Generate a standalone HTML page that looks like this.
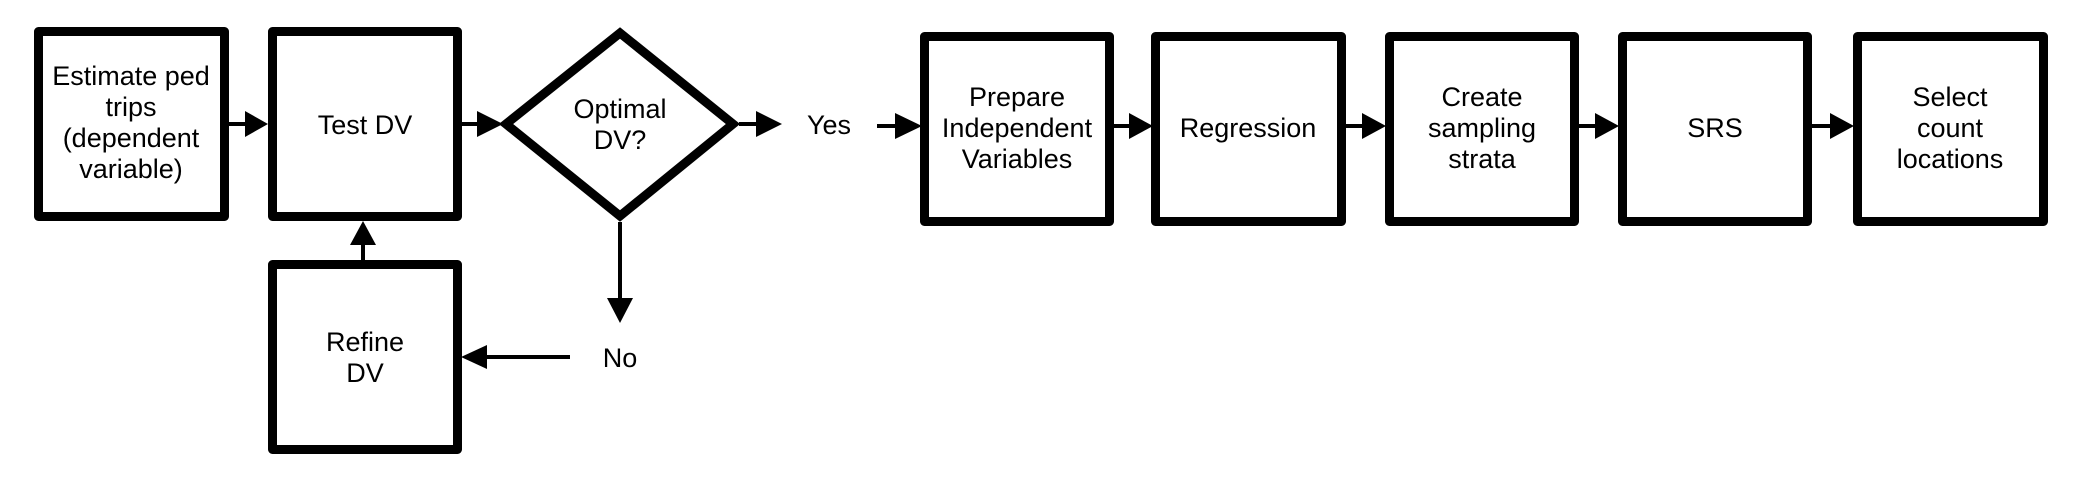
<!DOCTYPE html>
<html><head><meta charset="utf-8"><style>
html,body{margin:0;padding:0;background:#fff;}
svg{display:block;}
text{font-family:"Liberation Sans",Arial,sans-serif;font-size:27px;fill:#000;text-anchor:middle;}
</style></head><body>
<svg width="2080" height="480" viewBox="0 0 2080 480" xmlns="http://www.w3.org/2000/svg">
<g fill="none" stroke="#000" stroke-width="9" stroke-linejoin="round">
<rect x="38.5" y="31.5" width="186" height="185"/>
<rect x="272.5" y="31.5" width="185" height="185"/>
<polygon points="620,33 733,124 620,216 506,124" stroke-linejoin="miter"/>
<rect x="924.5" y="36.5" width="185" height="185"/>
<rect x="1155.5" y="36.5" width="186" height="185"/>
<rect x="1389.5" y="36.5" width="185" height="185"/>
<rect x="1622.5" y="36.5" width="185" height="185"/>
<rect x="1857.5" y="36.5" width="186" height="185"/>
<rect x="272.5" y="264.5" width="185" height="185"/>
</g>
<g stroke="#000" stroke-width="4">
<line x1="229" y1="124" x2="248" y2="124"/>
<line x1="462" y1="124" x2="480" y2="124"/>
<line x1="739" y1="124" x2="758" y2="124"/>
<line x1="877" y1="126" x2="898" y2="126"/>
<line x1="1114" y1="126" x2="1132" y2="126"/>
<line x1="1346" y1="126" x2="1366" y2="126"/>
<line x1="1579" y1="126" x2="1599" y2="126"/>
<line x1="1812" y1="126" x2="1834" y2="126"/>
<line x1="363" y1="260" x2="363" y2="242"/>
<line x1="620" y1="222" x2="620" y2="300"/>
<line x1="570" y1="357" x2="485" y2="357"/>
</g>
<g fill="#000">
<polygon points="245,111 268,124 245,137"/>
<polygon points="477,111 503,124 477,137"/>
<polygon points="756,111 782,124 756,137"/>
<polygon points="895,113 922,126 895,139"/>
<polygon points="1129,113 1153,126 1129,139"/>
<polygon points="1362,113 1386,126 1362,139"/>
<polygon points="1595,113 1619,126 1595,139"/>
<polygon points="1830,113 1854,126 1830,139"/>
<polygon points="350,245 363,221 376,245"/>
<polygon points="607,298 620,323 633,298"/>
<polygon points="487,345 461,357 487,369"/>
</g>
<text x="131" y="85">Estimate ped</text>
<text x="131" y="116">trips</text>
<text x="131" y="147">(dependent</text>
<text x="131" y="178">variable)</text>
<text x="365" y="134">Test DV</text>
<text x="620" y="118">Optimal</text>
<text x="620" y="149">DV?</text>
<text x="829" y="134">Yes</text>
<text x="620" y="367">No</text>
<text x="1017" y="106">Prepare</text>
<text x="1017" y="137">Independent</text>
<text x="1017" y="168">Variables</text>
<text x="1248" y="137">Regression</text>
<text x="1482" y="106">Create</text>
<text x="1482" y="137">sampling</text>
<text x="1482" y="168">strata</text>
<text x="1715" y="137">SRS</text>
<text x="1950" y="106">Select</text>
<text x="1950" y="137">count</text>
<text x="1950" y="168">locations</text>
<text x="365" y="351">Refine</text>
<text x="365" y="382">DV</text>
</svg>
</body></html>
